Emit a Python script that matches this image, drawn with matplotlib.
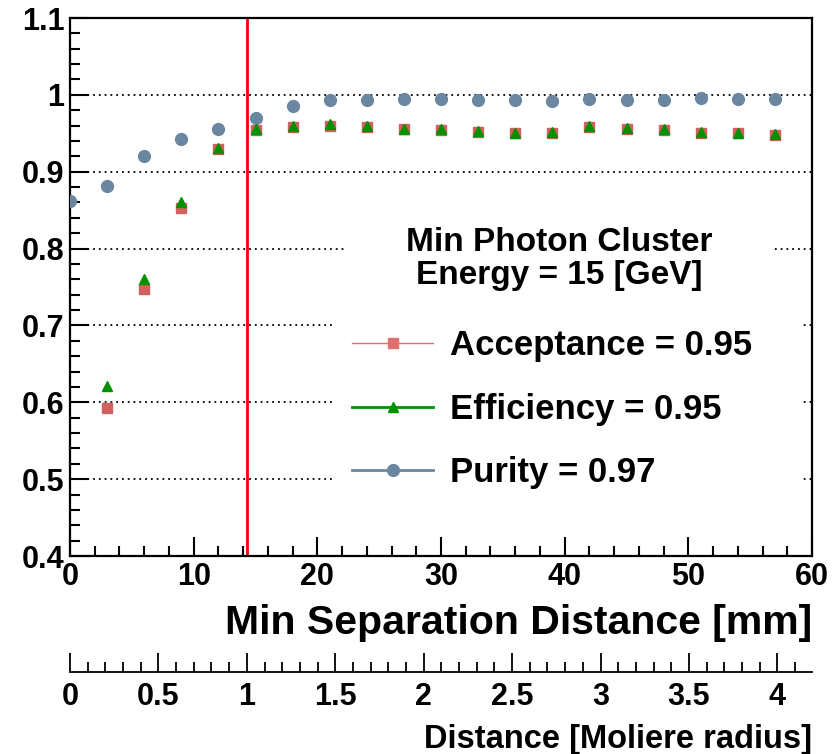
import numpy as np
import matplotlib.pyplot as plt
from matplotlib.lines import Line2D
from matplotlib.patches import Rectangle
from matplotlib.ticker import MultipleLocator, FormatStrFormatter

plt.rcParams['font.family'] = ['Liberation Sans', 'DejaVu Sans']
plt.rcParams['font.weight'] = 'bold'
plt.rcParams['axes.labelweight'] = 'bold'

# Daten
dist_mm = [0, 3, 6, 9, 12, 15, 18, 21, 24, 27, 30, 33, 36, 39, 42, 45, 48, 51, 54, 57]
acceptance = [np.nan, 0.592, 0.747, 0.853, 0.929, 0.954, 0.958, 0.960, 0.958, 0.955,
              0.954, 0.952, 0.950, 0.951, 0.958, 0.956, 0.954, 0.951, 0.950, 0.948]
efficiency = [np.nan, 0.621, 0.761, 0.860, 0.931, 0.955, 0.959, 0.962, 0.959, 0.956,
              0.955, 0.953, 0.951, 0.952, 0.960, 0.957, 0.955, 0.952, 0.951, 0.949]
purity = [0.862, 0.881, 0.920, 0.943, 0.956, 0.970, 0.985, 0.993, 0.993, 0.994,
          0.994, 0.993, 0.993, 0.992, 0.995, 0.993, 0.993, 0.996, 0.995, 0.995]
grid_y = [0.5, 0.6, 0.7, 0.8, 0.9, 1.0]
moliere_mm = 14.3  # Moliere-Radius
labels = ['Acceptance = 0.95', 'Efficiency = 0.95', 'Purity = 0.97']

c_acc = '#d35f5f'
c_eff = '#009000'
c_pur = '#6b86a0'

fig = plt.figure(figsize=(8.39, 7.54), dpi=100)
ax = fig.add_axes([70/839, 198/754, 742/839, 538/754])

for g in grid_y:
    ax.axhline(g, color='black', linestyle=(0, (1, 2.2)), linewidth=1.3, zorder=0)

ax.axvline(moliere_mm, color='red', linewidth=2, zorder=1)

ax.plot(dist_mm, purity, 'o', color=c_pur, markersize=8.5, zorder=3)
ax.plot(dist_mm, acceptance, 's', color=c_acc, markersize=7.5, zorder=3)
ax.plot(dist_mm, efficiency, '^', color=c_eff, markersize=7.5, zorder=4)

ax.set_xlim(0, 60)
ax.set_ylim(0.4, 1.1)
ax.xaxis.set_major_locator(MultipleLocator(10))
ax.xaxis.set_minor_locator(MultipleLocator(2))
ax.yaxis.set_major_locator(MultipleLocator(0.1))
ax.yaxis.set_minor_locator(MultipleLocator(0.02))
ax.yaxis.set_major_formatter(FormatStrFormatter('%g'))
ax.tick_params(which='both', direction='in', top=False, right=False, width=1.5,
               labelsize=22, pad=4)
ax.tick_params(which='major', length=14)
ax.tick_params(which='minor', length=7.5)
for s in ax.spines.values():
    s.set_linewidth(1.6)

# weisser Kasten hinter dem Text (wie ROOT-Pave)
ax.add_patch(Rectangle((0.373, 0.476), 0.573, 0.145, transform=ax.transAxes,
                       facecolor='white', edgecolor='none', zorder=2))
ax.text(0.660, 0.552, 'Min Photon Cluster\nEnergy = 15 [GeV]', transform=ax.transAxes,
        ha='center', va='center', fontsize=24, linespacing=1.1, zorder=5)

handles = [Line2D([], [], color='#e07070', linewidth=1, marker='s', markersize=7.5),
           Line2D([], [], color=c_eff, linewidth=2, marker='^', markersize=7.5),
           Line2D([], [], color=c_pur, linewidth=2, marker='o', markersize=8.5)]
leg = ax.legend(handles, labels, loc='upper left', bbox_to_anchor=(0.357, 0.4535, 0.627, 0.0),
                mode='expand', fontsize=25, frameon=True, facecolor='white', edgecolor='none',
                framealpha=1, fancybox=False, handlelength=2.33, handletextpad=0.49,
                labelspacing=0.88, borderpad=0.5, borderaxespad=0)
leg.set_zorder(5)

ax.set_xlabel('Min Separation Distance [mm]', loc='right', fontsize=29.5, labelpad=9)

# zweite Achse in Moliere-Radien
ax2 = fig.add_axes([70/839, 82/754, 742/839, 0.001])
ax2.set_xlim(0, 60/moliere_mm)
ax2.set_yticks([])
for side in ['top', 'left', 'right']:
    ax2.spines[side].set_visible(False)
ax2.spines['bottom'].set_linewidth(1.3)
ax2.xaxis.set_major_locator(MultipleLocator(0.5))
ax2.xaxis.set_minor_locator(MultipleLocator(0.1))
ax2.xaxis.set_major_formatter(FormatStrFormatter('%g'))
ax2.tick_params(which='both', direction='in', width=1.3, labelsize=22, pad=7)
ax2.tick_params(which='major', length=14)
ax2.tick_params(which='minor', length=7)
ax2.set_xlabel('Distance [Moliere radius]', loc='right', fontsize=23.5, labelpad=9)

plt.savefig('out.png', dpi=100)
